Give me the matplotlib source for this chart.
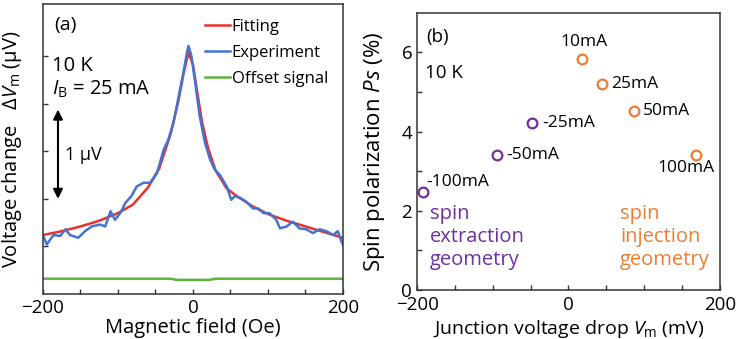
import numpy as np
import matplotlib.pyplot as plt

plt.rcParams['font.family'] = ['Open Sans', 'DejaVu Sans']
plt.rcParams['mathtext.fontset'] = 'custom'
plt.rcParams['mathtext.rm'] = 'Open Sans'
plt.rcParams['mathtext.it'] = 'Open Sans:italic'

# (a) сигнал в зависимости от поля
field_exp = [-200, -195, -186, -177, -170, -164, -153, -144, -135, -124, -117, -110, -104, -97,
             -90, -82, -75, -66, -57, -48, -39, -33, -26, -20, -13, -8, -6, -2, 3, 9, 16, 23,
             29, 36, 45, 51, 56, 63, 71, 80, 87, 94, 102, 111, 116, 125, 133, 142, 151, 160,
             169, 178, 187, 193, 198, 200]
volt_exp = [0.46, 0.36, 0.46, 0.45, 0.52, 0.46, 0.43, 0.50, 0.55, 0.57, 0.55, 0.71, 0.62, 0.69,
            0.80, 0.87, 0.97, 1.01, 1.01, 1.11, 1.36, 1.46, 1.64, 1.88, 2.16, 2.38, 2.45, 2.34,
            2.06, 1.71, 1.43, 1.25, 1.15, 1.09, 0.97, 0.83, 0.87, 0.85, 0.81, 0.74, 0.74, 0.69,
            0.69, 0.62, 0.53, 0.55, 0.60, 0.53, 0.52, 0.48, 0.52, 0.50, 0.46, 0.50, 0.39, 0.36]

field_fit = [-200, -175, -150, -125, -100, -80, -60, -45, -30, -20, -12, -6, 0, 6, 12, 20, 30,
             45, 60, 80, 100, 125, 150, 175, 200]
volt_fit = [0.46, 0.50, 0.55, 0.61, 0.69, 0.78, 0.96, 1.16, 1.52, 1.85, 2.18, 2.38, 2.25, 1.95,
            1.65, 1.38, 1.14, 0.95, 0.86, 0.76, 0.68, 0.61, 0.55, 0.49, 0.43]

field_off = [-200, -30, -22, 22, 30, 200]
volt_off = [0.0, 0.0, -0.012, -0.012, 0.0, 0.0]

# (b) спиновая поляризация
vm_extr = [-192, -95, -48]
ps_extr = [2.48, 3.42, 4.22]
lab_extr = ['-100mA', '-50mA', '-25mA']
vm_inj = [18, 44, 86, 168]
ps_inj = [5.84, 5.20, 4.51, 3.40]
lab_inj = ['10mA', '25mA', '50mA', '100mA']

purple = '#7030A0'
orange = '#ED7D31'
frame = '#333333'

fig = plt.figure(figsize=(7.36, 3.39), dpi=100)
ax1 = fig.add_axes([0.0584, 0.133, 0.4076, 0.855])
ax2 = fig.add_axes([0.5666, 0.1445, 0.4116, 0.8175])

for ax in (ax1, ax2):
    for s in ax.spines.values():
        s.set_color(frame)
        s.set_linewidth(1.1)
    ax.tick_params(direction='in', which='both', colors=frame, labelcolor='black',
                   labelsize=13.5, top=False, right=False)

# --- панель (a)
ax1.plot(field_off, volt_off, color='#5BB33A', lw=1.8, label='Offset signal')
ax1.plot(field_fit, volt_fit, color='#E8312F', lw=1.8, label='Fitting')
ax1.plot(field_exp, volt_exp, color='#4474CF', lw=1.8, label='Experiment')
ax1.set_xlim(-200, 200)
ax1.set_ylim(-0.16, 2.89)
ax1.set_xticks([-200, 0, 200])
ax1.set_xticks(np.arange(-150, 200, 50), minor=True)
ax1.set_yticks([0.34, 0.84, 1.34, 1.84, 2.34])
ax1.set_yticklabels([])
ax1.tick_params(which='both', length=3.5, width=1)
ax1.set_xlabel('Magnetic field (Oe)', fontsize=14.5)
ax1.set_ylabel('Voltage change   $\\Delta V_\\mathrm{m}$ (μV)', fontsize=14.5)
ax1.xaxis.set_label_coords(0.5, -0.083)
ax1.yaxis.set_label_coords(-0.062, 0.5)

h, l = ax1.get_legend_handles_labels()
order = [1, 2, 0]
ax1.legend([h[i] for i in order], [l[i] for i in order], loc='upper left', frameon=False,
           fontsize=12, handlelength=1.5, handletextpad=0.1, borderaxespad=0, borderpad=0,
           labelspacing=0.6, bbox_to_anchor=(0.54, 0.95))

ax1.text(0.037, 0.928, '(a)', transform=ax1.transAxes, fontsize=14, va='center')
ax1.text(0.03, 0.785, '10 K', transform=ax1.transAxes, fontsize=14.5, va='center')
ax1.text(0.03, 0.707, '$\\it{I}_\\mathrm{B}$ = 25 mA', transform=ax1.transAxes,
         fontsize=14.5, va='center')
ax1.annotate('', xy=(-180, 0.84), xytext=(-180, 1.78),
             arrowprops=dict(arrowstyle='<|-|>', color='black', lw=1.5,
                             mutation_scale=14, shrinkA=0, shrinkB=0))
ax1.text(-170, 1.30, '1 μV', fontsize=13, va='center')

# --- панель (b)
ax2.plot(vm_extr, ps_extr, 'o', mfc='none', mec=purple, mew=1.6, ms=7)
ax2.plot(vm_inj, ps_inj, 'o', mfc='none', mec=orange, mew=1.6, ms=7)
ax2.set_xlim(-200, 200)
ax2.set_ylim(0, 7)
ax2.set_xticks([-200, 0, 200])
ax2.set_xticks(np.arange(-150, 200, 50), minor=True)
ax2.set_yticks([0, 2, 4, 6])
ax2.set_yticks([1, 3, 5], minor=True)
ax2.tick_params(which='both', length=3.5, width=1)
ax2.tick_params(axis='x', pad=4.5)
ax2.set_xlabel('Junction voltage drop $\\it{V}_\\mathrm{m}$ (mV)', fontsize=14)
ax2.set_ylabel('Spin polarization $\\it{Ps}$ (%)', fontsize=16)
ax2.xaxis.set_label_coords(0.5, -0.1)
ax2.yaxis.set_label_coords(-0.098, 0.5)

offs_extr = [(2, 1), (7, 0), (7, 0)]
va_extr = ['bottom', 'center', 'center']
for x, y, t, o, va in zip(vm_extr, ps_extr, lab_extr, offs_extr, va_extr):
    ax2.annotate(t, (x, y), xytext=o, textcoords='offset points', ha='left', va=va,
                 fontsize=12.5)

offs_inj = [(1, 6), (7, 0), (7, 0), (-7, -3)]
ha_inj = ['center', 'left', 'left', 'center']
va_inj = ['bottom', 'center', 'center', 'top']
for x, y, t, o, ha, va in zip(vm_inj, ps_inj, lab_inj, offs_inj, ha_inj, va_inj):
    ax2.annotate(t, (x, y), xytext=o, textcoords='offset points', ha=ha, va=va,
                 fontsize=12.5)

ax2.text(0.03, 0.913, '(b)', transform=ax2.transAxes, fontsize=13.5, va='center')
ax2.text(0.025, 0.783, '10 K', transform=ax2.transAxes, fontsize=13.5, va='center')
ax2.text(0.043, 0.19, 'spin\nextraction\ngeometry', transform=ax2.transAxes, fontsize=14.5,
         color=purple, va='center', linespacing=1.2)
ax2.text(0.67, 0.19, 'spin\ninjection\ngeometry', transform=ax2.transAxes, fontsize=14.5,
         color=orange, va='center', linespacing=1.2)

plt.savefig('out.png', dpi=100)
